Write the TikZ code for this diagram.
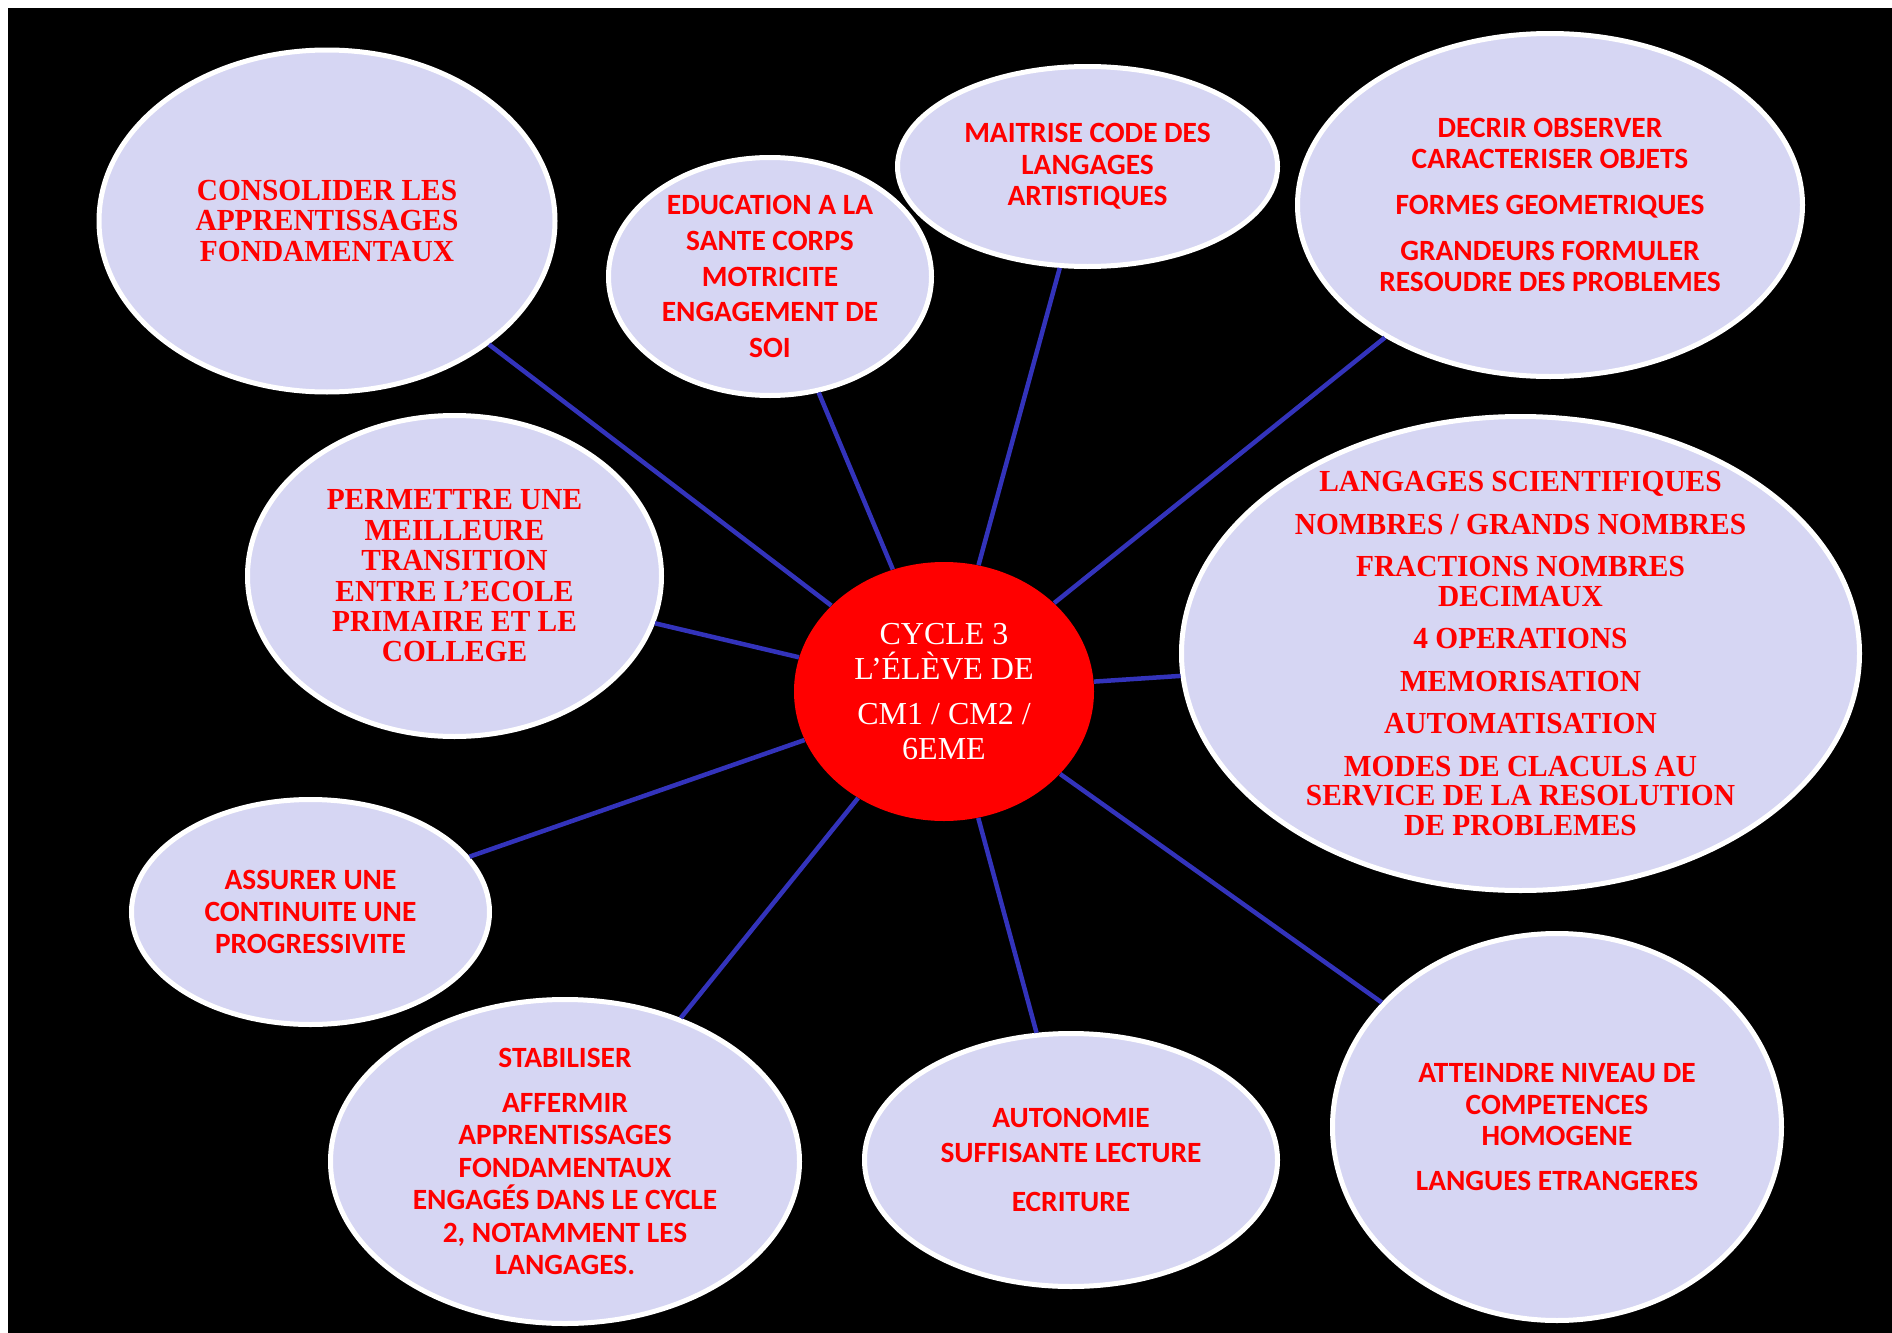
\documentclass[tikz,border=0pt]{standalone}
\usepackage{fontspec}
\usepackage{tikz}
\usetikzlibrary{shapes.geometric}
\setmainfont{Liberation Serif}
\newfontfamily\narrowserif{Liberation Serif}[FakeStretch = 0.96]
\newfontfamily\calibri{Carlito}
\definecolor{lavender}{RGB}{214,214,243}
\definecolor{linkBlue}{RGB}{51,51,187}
\definecolor{hubRed}{RGB}{255,0,0}
\tikzstyle{bubble} = [ellipse, draw = white, line width = 2.5pt, fill = lavender, inner sep = 0pt]
\tikzstyle{hub} = [ellipse, fill = hubRed, inner sep = 0pt]
\tikzstyle{link} = [draw = linkBlue, line width = 2.25pt]
\tikzset{
    serifText/.style 2 args = {text = red, align = center, font = \narrowserif\bfseries\fontsize{#1}{#2}\selectfont},
    sansText/.style 2 args = {text = red, align = center, font = \calibri\bfseries\fontsize{#1}{#2}\selectfont}
}

\begin{document}
\begin{tikzpicture}[x = 0.5pt, y = -0.5pt]
    \useasboundingbox (0,0) rectangle (1892,1333);
    \fill [white] (0,0) rectangle (1892,1333);
    \fill [black] (8,8) rectangle (1892,1333);

    % centre
    \node (hub) [hub, minimum width = 150pt, minimum height = 129.5pt] at (944,691.5) {};

    % bubbles
    \node (consolider) [bubble, minimum width = 228pt, minimum height = 171pt] at (327,221) {};
    \node (education) [bubble, minimum width = 161.5pt, minimum height = 119pt] at (770,276.5) {};
    \node (maitrise) [bubble, minimum width = 190pt, minimum height = 100pt] at (1087.5,166.5) {};
    \node (decrir) [bubble, minimum width = 252.5pt, minimum height = 171.5pt] at (1550,205) {};
    \node (langages) [bubble, minimum width = 339pt, minimum height = 237pt] at (1520.5,653.5) {};
    \node (permettre) [bubble, minimum width = 207pt, minimum height = 160.5pt] at (454.5,576) {};
    \node (assurer) [bubble, minimum width = 179pt, minimum height = 112.5pt] at (310.5,912) {};
    \node (stabiliser) [bubble, minimum width = 234.5pt, minimum height = 162pt] at (565,1161.5) {};
    \node (autonomie) [bubble, minimum width = 206.5pt, minimum height = 126.5pt] at (1071,1160) {};
    \node (atteindre) [bubble, minimum width = 224.5pt, minimum height = 193.5pt] at (1557,1127) {};

    \draw [link] (hub) -- (consolider);
    \draw [link] (hub) -- (education);
    \draw [link] (hub) -- (maitrise);
    \draw [link] (hub) -- (decrir);
    \draw [link] (hub) -- (langages);
    \draw [link] (hub) -- (permettre);
    \draw [link] (hub) -- (assurer);
    \draw [link] (hub) -- (stabiliser);
    \draw [link] (hub) -- (autonomie);
    \draw [link] (hub) -- (atteindre);

    % texts
    \node (hubTxt) [text = white, align = center, font = \fontsize{16}{17.2}\selectfont] at (hub) {CYCLE 3\\L’ÉLÈVE DE\\[5.6pt]CM1 / CM2 /\\6EME};
    \node (consoliderTxt) [serifText = {15.3}{15.35}] at (consolider) {CONSOLIDER LES\\APPRENTISSAGES\\FONDAMENTAUX};
    \node (educationTxt) [sansText = {14.7}{17.85}] at (education) {EDUCATION A LA\\SANTE CORPS\\MOTRICITE\\ENGAGEMENT DE\\SOI};
    \node (maitriseTxt) [sansText = {14.7}{15.85}] at (maitrise) {MAITRISE CODE DES\\LANGAGES\\ARTISTIQUES};
    \node (decrirTxt) [sansText = {14.7}{15.4}] at (decrir) {DECRIR OBSERVER\\CARACTERISER OBJETS\\[7.5pt]FORMES GEOMETRIQUES\\[7.5pt]GRANDEURS FORMULER\\RESOUDRE DES PROBLEMES};
    \node (langagesTxt) [serifText = {15.3}{14.75}] at (langages) {LANGAGES SCIENTIFIQUES\\[6.5pt]NOMBRES / GRANDS NOMBRES\\[6.5pt]FRACTIONS NOMBRES\\DECIMAUX\\[6.5pt]4 OPERATIONS\\[6.5pt]MEMORISATION\\[6.5pt]AUTOMATISATION\\[6.5pt]MODES DE CLACULS AU\\SERVICE DE LA RESOLUTION\\DE PROBLEMES};
    \node (permettreTxt) [serifText = {15.3}{15.2}] at (permettre) {PERMETTRE UNE\\MEILLEURE\\TRANSITION\\ENTRE L’ECOLE\\PRIMAIRE ET LE\\COLLEGE};
    \node (assurerTxt) [sansText = {14.7}{15.85}] at (assurer) {ASSURER UNE\\CONTINUITE UNE\\PROGRESSIVITE};
    \node (stabiliserTxt) [sansText = {14.7}{16.25}] at (stabiliser) {STABILISER\\[6.25pt]AFFERMIR\\APPRENTISSAGES\\FONDAMENTAUX\\ENGAGÉS DANS LE CYCLE\\2, NOTAMMENT LES\\LANGAGES.};
    \node (autonomieTxt) [sansText = {14.7}{17.5}] at (autonomie) {AUTONOMIE\\SUFFISANTE LECTURE\\[7pt]ECRITURE};
    \node (atteindreTxt) [sansText = {14.7}{15.85}] at (atteindre) {ATTEINDRE NIVEAU DE\\COMPETENCES\\HOMOGENE\\[6.5pt]LANGUES ETRANGERES};
\end{tikzpicture}
\end{document}
